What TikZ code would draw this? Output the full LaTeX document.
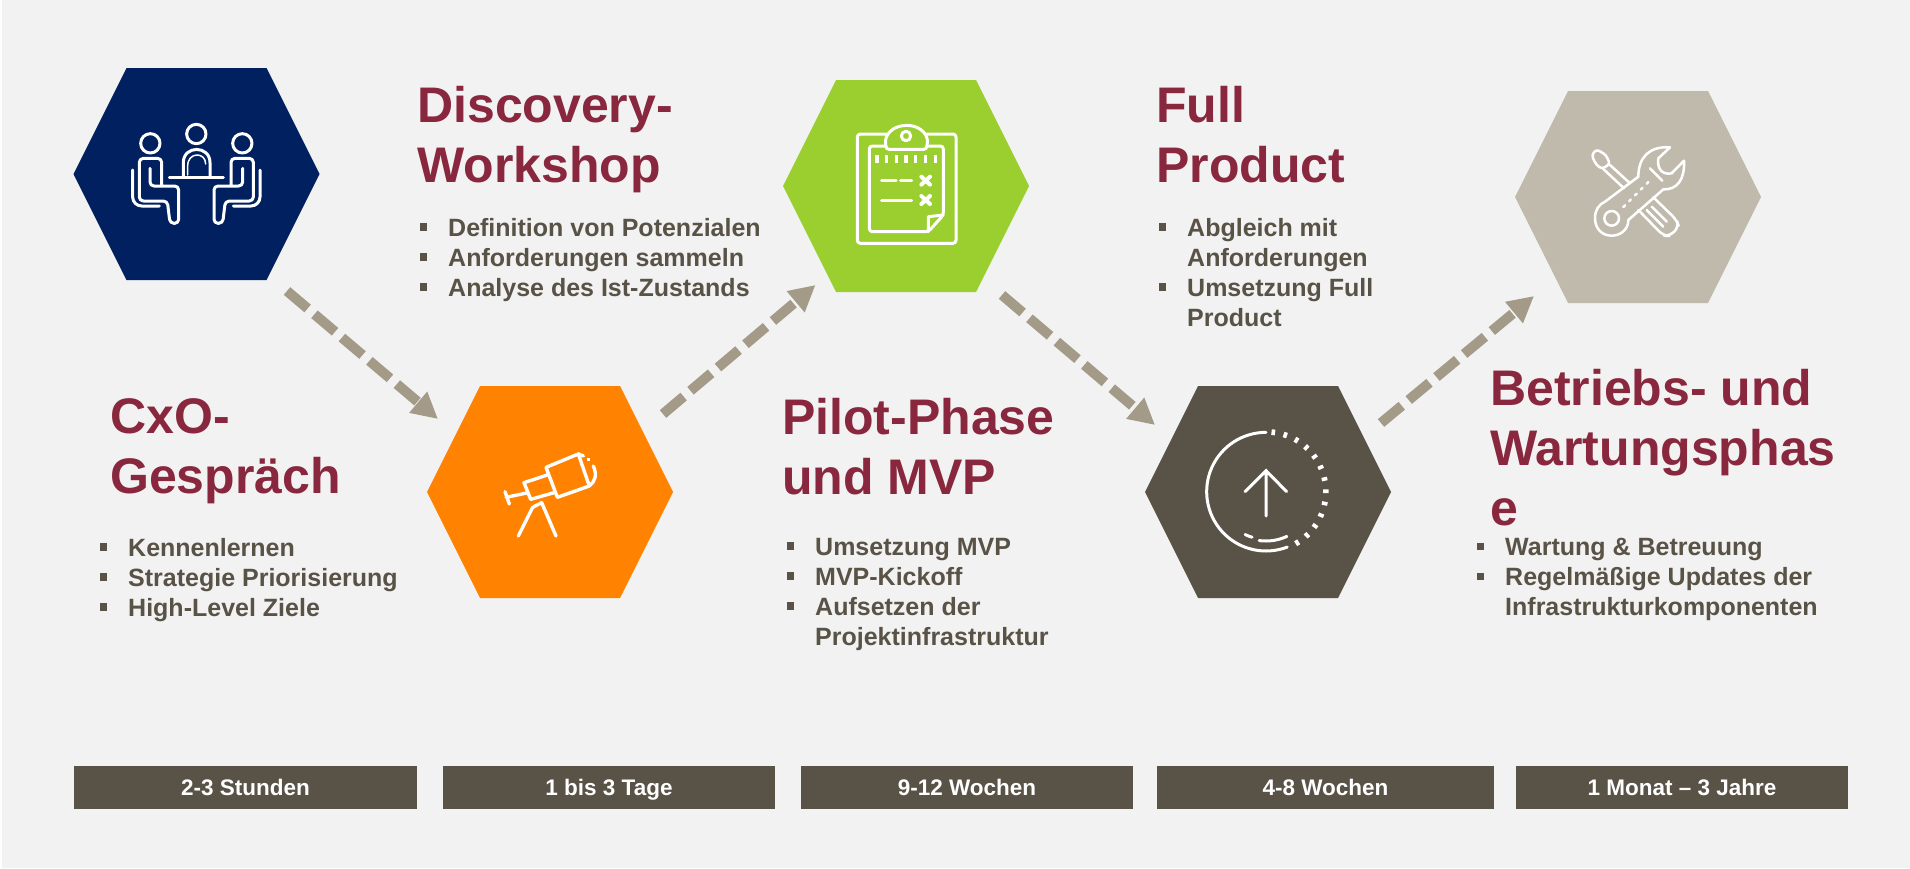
\documentclass[tikz,border=0pt]{standalone}
\usepackage{fontspec}
\setmainfont{Liberation Sans}
\usetikzlibrary{arrows.meta}

\definecolor{pagebg}{HTML}{F2F2F2}
\definecolor{navy}{HTML}{00205F}
\definecolor{signal}{HTML}{FF8200}
\definecolor{leaf}{HTML}{9BCF30}
\definecolor{umber}{HTML}{595246}
\definecolor{stone}{HTML}{C0BAAD}
\definecolor{taupe}{HTML}{A39A88}
\definecolor{wine}{HTML}{88273D}

\newcommand{\blt}{\llap{\rule[5.5pt]{7.5pt}{7.5pt}\hspace{21pt}}}

\tikzset{
    hexa/.style={minimum width=246pt,minimum height=212pt,inner sep=0pt,
        path picture={\fill[#1] (path picture bounding box.west)
            -- ([xshift=53pt]path picture bounding box.north west)
            -- ([xshift=-53pt]path picture bounding box.north east)
            -- (path picture bounding box.east)
            -- ([xshift=-53pt]path picture bounding box.south east)
            -- ([xshift=53pt]path picture bounding box.south west) -- cycle;}},
    flow/.style={draw=taupe,line width=10pt,dash pattern=on 27pt off 9pt,
        -{Triangle[length=26pt,width=26pt,fill=taupe]}},
    title/.style={anchor=north west,inner sep=0pt,align=left,text=wine,
        font=\fontsize{50}{60}\selectfont\bfseries},
    points/.style={anchor=north west,inner sep=0pt,align=left,text=umber,
        font=\fontsize{25}{30}\selectfont\bfseries},
    span/.style={fill=umber,text=white,inner sep=0pt,minimum height=43pt,
        text height=20pt,text depth=4pt,
        font=\fontsize{22.5}{27}\selectfont\bfseries},
    icon/.style={draw=white,line width=3pt,line join=round,line cap=round}
}

\begin{document}
\begin{tikzpicture}[x=1pt,y=-1pt]

        \useasboundingbox (0,0) rectangle (1910,868);
        \fill[pagebg] (1.5,0) rectangle (1910,868);

        % Hexagons
        \node[hexa=navy] (talk) at (196.5,174) {};
        \node[hexa=signal] (scope) at (550,492) {};
        \node[hexa=leaf] (pilot) at (906,186) {};
        \node[hexa=umber] (full) at (1268,492) {};
        \node[hexa=stone] (care) at (1638,197) {};

        % Arrows between the phases
        \draw[flow] ([shift={(90.5,117)}]talk.center) -- ([shift={(-112,-73)}]scope.center);
        \draw[flow] ([shift={(113,-78)}]scope.center) -- ([shift={(-90.5,99)}]pilot.center);
        \draw[flow] ([shift={(96,109)}]pilot.center) -- ([shift={(-113,-67)}]full.center);
        \draw[flow] ([shift={(113,-69)}]full.center) -- ([shift={(-104,99)}]care.center);

        % Icon: people at a table
        \begin{scope}[shift={(50,40)},scale=1/3,icon]
            \draw (301,310) circle (29) (439,282) circle (29) (577,310) circle (29);
            \draw (358,411) -- (520,411);
            \draw (400,408) -- (400,368) .. controls (400,315) and (480,315) .. (480,368) -- (480,408);
            \draw[line width=1.5pt] (413,405) -- (413,378) .. controls (413,335) and (467,335) .. (467,372);
            \foreach \flip/\pos in {1/0,-1/878} {
                \begin{scope}[xshift=\pos pt,xscale=\flip]
                    \draw[rounded corners=4pt] (335,436) -- (335,355) -- (268,355) -- (268,483) -- (352,483) -- (360,550) -- (386,550) -- (386,438) -- (300,438) -- (300,385);
                    \draw[rounded corners=9pt] (248,390) -- (248,498) -- (328,498);
                \end{scope}
            }
        \end{scope}

        % Icon: telescope
        \begin{scope}[shift={(420,380)},scale=1/3,icon,line width=3.4pt]
            \draw (378,262) -- (475,222) -- (508,318) -- (412,352) -- cycle;
            \draw (475,222) -- (490,228) (508,318) .. controls (525,305) and (532,285) .. (520,258);
            \draw (505,238) -- (506,239);
            \draw (382,285) -- (312,308) -- (332,358) -- (402,338);
            \draw (325,338) -- (258,352) (255,335) -- (268,372);
            \draw (295,468) -- (338,382) -- (365,368) -- (408,468);
        \end{scope}

        % Icon: clipboard
        \begin{scope}[shift={(760,60)},scale=1/3,icon]
            \draw[rounded corners=3pt] (378,222) -- (292,222) -- (292,550) -- (588,550) -- (588,222) -- (500,222);
            \draw[rounded corners=3pt] (378,258) -- (328,258) -- (328,515) -- (505,515) -- (550,465) -- (550,258) -- (500,258);
            \draw (505,515) -- (505,470) -- (550,465);
            \draw[rounded corners=3pt] (378,268) -- (376,238) .. controls (400,185) and (480,185) .. (503,238) -- (500,268) -- cycle;
            \draw (438,228) circle (14);
            \foreach \tick in {351,380,409,438,467,496,526}
                \draw[line cap=butt,line width=3.5pt] (\tick,286) -- (\tick,308);
            \draw (365,362) -- (408,362) (422,362) -- (455,362) (365,420) -- (455,420);
            \foreach \row in {362,420}
                \draw[line width=4pt] (484,\row-12) -- (510,\row+12) (510,\row-12) -- (484,\row+12);
        \end{scope}

        % Icon: upload circle
        \begin{scope}[shift={(1140,380)},scale=1/3,icon]
            \draw plot[domain=-90:-291,samples=50,smooth] ({378+178*cos(\x)},{335+178*sin(\x)});
            \foreach \a in {-83,-71.2,...,60}
                \draw[line cap=butt,line width=3.6pt] ({378+171*cos(\a)},{335+171*sin(\a)}) -- ({378+188*cos(\a)},{335+188*sin(\a)});
            \draw plot[domain=98:65,samples=12,smooth] ({378+148*cos(\x)},{335+148*sin(\x)});
            \draw plot[domain=116:107,samples=4,smooth] ({378+143*cos(\x)},{335+143*sin(\x)});
            \draw (378,408) -- (378,270) (315,335) -- (378,272) -- (440,335);
        \end{scope}

        % Icon: wrench and screwdriver
        \begin{scope}[shift={(1500,70)},scale=1/3,icon,line width=2.5pt]
            \draw[rounded corners=3pt] (275,255) -- (290,238) -- (318,255) -- (330,282) -- (305,297) -- (287,282) -- cycle;
            \draw (330,285) -- (390,340) (310,297) -- (372,355);
            \draw[rounded corners=6pt] (415,420) -- (490,497) -- (510,498) -- (537,470) -- (530,450) -- (460,382);
            \draw (440,420) -- (490,470) (455,410) -- (500,455);
            \draw (415,320) .. controls (415,260) and (450,228) .. (510,232) -- (475,265)
                .. controls (470,300) and (490,315) .. (515,310) -- (552,272)
                .. controls (555,330) and (530,360) .. (490,358) -- (385,450)
                .. controls (385,480) and (360,497) .. (335,497)
                .. controls (305,497) and (285,475) .. (285,445)
                .. controls (285,420) and (295,405) .. (315,395) -- cycle;
            \draw (335,445) circle (22);
            \draw (450,295) -- (487,332);
            \foreach \d in {0,1,2,3,4}
                \draw (370+17.5*\d,411-17.5*\d) -- (375+17.5*\d,406-17.5*\d);
        \end{scope}

        % Phase names
        \node[title] (talkname) at (110,398) {CxO-\\Gespräch};
        \node[title] (scopename) at (417,86) {Discovery-\\Workshop};
        \node[title] (pilotname) at (782,398) {Pilot-Phase\\und MVP};
        \node[title] (fullname) at (1156,86) {Full\\Product};
        \node[title] (carename) at (1490,369) {Betriebs- und\\Wartungsphas\\e};

        % Points of each phase
        \node[points] (talkpts) at (128,538) {\blt Kennenlernen\\\blt Strategie Priorisierung\\\blt High-Level Ziele};
        \node[points] (scopepts) at (448,218) {\blt Definition von Potenzialen\\\blt Anforderungen sammeln\\\blt Analyse des Ist-Zustands};
        \node[points] (pilotpts) at (815,538) {\blt Umsetzung MVP\\\blt MVP-Kickoff\\\blt Aufsetzen der\\Projektinfrastruktur};
        \node[points] (fullpts) at (1187,218) {\blt Abgleich mit\\Anforderungen\\\blt Umsetzung Full\\Product};
        \node[points] (carepts) at (1505,538) {\blt Wartung \& Betreuung\\\blt Regelmäßige Updates der\\Infrastrukturkomponenten};

        % Durations
        \node[span,minimum width=343pt] (talktime) at (245.5,787.5) {2-3 Stunden};
        \node[span,minimum width=332pt] (scopetime) at (609,787.5) {1 bis 3 Tage};
        \node[span,minimum width=332pt] (pilottime) at (967,787.5) {9-12 Wochen};
        \node[span,minimum width=337pt] (fulltime) at (1325.5,787.5) {4-8 Wochen};
        \node[span,minimum width=332pt] (caretime) at (1682,787.5) {1 Monat – 3 Jahre};
    \end{tikzpicture}
\end{document}
